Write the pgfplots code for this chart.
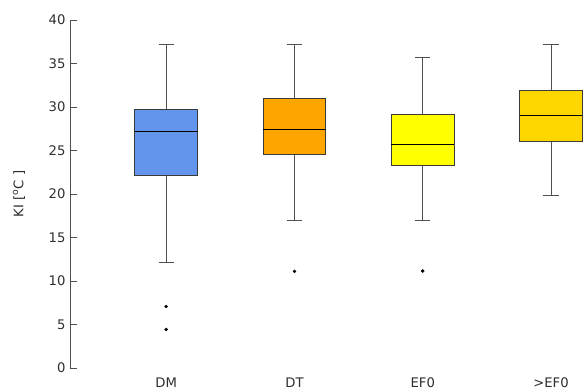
\documentclass[border=0pt]{standalone}
\usepackage{fontspec}
\setmainfont{DejaVu Sans}
\usepackage{pgfplots}
\pgfplotsset{compat=1.18}
\usepgfplotslibrary{statistics}
\definecolor{cDM}{HTML}{6495ED}
\definecolor{cDT}{HTML}{FFA500}
\definecolor{cEF}{HTML}{FFFF00}
\definecolor{cGEF}{HTML}{FFD700}
\definecolor{txt}{HTML}{2E2E2E}
\definecolor{edge}{HTML}{3A3A3A}
\definecolor{wh}{HTML}{505050}
\newcommand{\lblfont}{\fontsize{13.2bp}{16bp}\selectfont}
\begin{document}
\begin{tikzpicture}
\path[use as bounding box] (-70bp,-24bp) rectangle (515bp,368bp);
\begin{axis}[
  scale only axis,
  width=515bp, height=348bp,
  xmin=0.25, xmax=4.265,
  ymin=0, ymax=40,
  axis lines=left,
  x axis line style={draw=none},
  y axis line style={-, wh, line width=1pt},
  xtick=\empty,
  ytick={0,5,...,40},
  tick align=inside,
  major tick length=7bp,
  ytick style={wh, line width=0.9pt},
  /pgf/number format/assume math mode=true,
  tick label style={font=\lblfont, text=txt},
  yticklabel style={xshift=-1bp},
  ylabel={KI [\textsuperscript{o}C ]},
  ylabel style={font=\lblfont, text=txt, at={(-51bp,174bp)}, anchor=center},
  clip=false,
  boxplot/draw direction=y,
  boxplot/box extend=0.49,
  boxplot/whisker extend=0.12,
  boxplot/every box/.style={draw=edge, line width=1pt},
  boxplot/every median/.style={draw=black, line width=1pt},
  boxplot/every whisker/.style={draw=wh, line width=1pt},
]
\addplot+[boxplot prepared={draw position=1, lower whisker=12.1, lower quartile=22.1, median=27.2, upper quartile=29.7, upper whisker=37.2},
  draw=edge, fill=cDM, mark=*, mark size=1.5bp, mark options={solid, fill=black, draw=black, line width=0.4pt}]
  table[row sep=\\, y=y] {y\\ 7.07\\ 4.43\\};
\addplot+[boxplot prepared={draw position=2, lower whisker=16.9, lower quartile=24.5, median=27.4, upper quartile=31.0, upper whisker=37.2},
  draw=edge, fill=cDT, mark=*, mark size=1.5bp, mark options={solid, fill=black, draw=black, line width=0.4pt}]
  table[row sep=\\, y=y] {y\\ 11.1\\};
\addplot+[boxplot prepared={draw position=3, lower whisker=16.9, lower quartile=23.25, median=25.7, upper quartile=29.1, upper whisker=35.7},
  draw=edge, fill=cEF, mark=*, mark size=1.5bp, mark options={solid, fill=black, draw=black, line width=0.4pt}]
  table[row sep=\\, y=y] {y\\ 11.15\\};
\addplot+[boxplot prepared={draw position=4, lower whisker=19.8, lower quartile=26.0, median=29.0, upper quartile=31.9, upper whisker=37.2},
  draw=edge, fill=cGEF, mark=none]
  coordinates {};
\node[font=\lblfont, text=txt] at (axis cs:1,0) [yshift=-15bp] {DM};
\node[font=\lblfont, text=txt] at (axis cs:2,0) [yshift=-15bp] {DT};
\node[font=\lblfont, text=txt] at (axis cs:3,0) [yshift=-15bp] {EF0};
\node[font=\lblfont, text=txt] at (axis cs:4,0) [yshift=-15bp] {>EF0};
\end{axis}
\end{tikzpicture}
\end{document}
